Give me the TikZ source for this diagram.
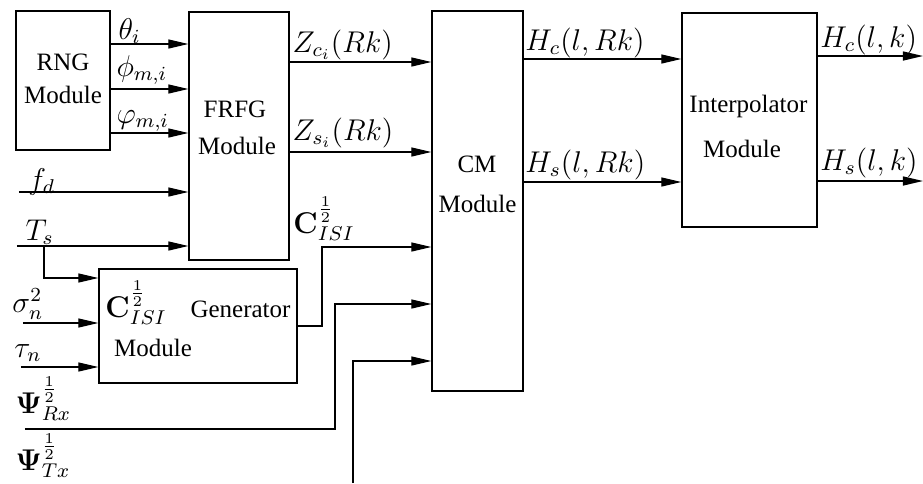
\documentclass[tikz,border=0pt]{standalone}
\usepackage[no-math]{fontspec}
\setmainfont{Liberation Serif}
\usetikzlibrary{arrows.meta}
\begin{document}
\begin{tikzpicture}[x=0.4pt,y=-0.4pt,
  box/.style={draw,line width=0.5pt,inner sep=0pt},
  txt/.style={font=\fontsize{10}{12}\selectfont,inner sep=0pt,anchor=base},
  lbl/.style={font=\fontsize{12}{14}\selectfont,inner sep=0pt,anchor=base west},
  arr/.style={line width=0.5pt,-{Triangle[length=8pt,width=3.6pt]}},
  ln/.style={line width=0.5pt}]
\useasboundingbox (0,0) rectangle (923,483);

% boxes
\node[box,minimum width=37.6pt,minimum height=55.6pt] (rng) at (63,80.5) {};
\node[box,minimum width=40pt,minimum height=99.2pt] (frfg) at (239,136) {};
\node[box,minimum width=36.4pt,minimum height=152pt] (cm) at (477.5,201) {};
\node[box,minimum width=54pt,minimum height=85.6pt] (intp) at (749.5,120) {};
\node[box,minimum width=79.2pt,minimum height=45.6pt] (gen) at (198,326) {};

% box texts
\node[txt] (rngt1) at (63,70) {RNG};
\node[txt] (rngt2) at (63,103) {Module};
\node[txt] (frfgt1) at (235,117) {FRFG};
\node[txt] (frfgt2) at (237,154) {Module};
\node[txt] (cmt1) at (477,172) {CM};
\node[txt] (cmt2) at (477.5,212) {Module};
\node[txt] (intpt1) at (748.5,112) {Interpolator};
\node[txt] (intpt2) at (742,157) {Module};
\node[txt] (gent1) at (240.5,317) {Generator};
\node[txt] (gent2) at (153,356) {Module};
\node[lbl] (gent0) at (105,317) {$\mathbf{C}^{\frac{1}{2}}_{ISI}$};

% labels
\node[lbl] (l1) at (118,39) {$\theta_i$};
\node[lbl] (l2) at (116,76) {$\phi_{m,i}$};
\node[lbl] (l3) at (116,123) {$\varphi_{m,i}$};
\node[lbl] (l4) at (292,52) {$Z_{c_i}(Rk)$};
\node[lbl] (l5) at (292,140) {$Z_{s_i}(Rk)$};
\node[lbl] (l6) at (293,233) {$\mathbf{C}^{\frac{1}{2}}_{ISI}$};
\node[lbl] (l7) at (525,50) {$H_c(l,Rk)$};
\node[lbl] (l8) at (525,172) {$H_s(l,Rk)$};
\node[lbl] (l9) at (820,47) {$H_c(l,k)$};
\node[lbl] (l10) at (820,170) {$H_s(l,k)$};
\node[lbl] (l11) at (28,189) {$f_d$};
\node[lbl] (l12) at (25,240) {$T_s$};
\node[lbl] (l13) at (12,312) {$\sigma_n^2$};
\node[lbl] (l14) at (14,357) {$\tau_n$};
\node[lbl] (l15) at (15,413) {$\mathbf{\Psi}^{\frac{1}{2}}_{Rx}$};
\node[lbl] (l16) at (15,470) {$\mathbf{\Psi}^{\frac{1}{2}}_{Tx}$};

% free ends
\coordinate (fdin) at (19,192);
\coordinate (tsin) at (17,246);
\coordinate (tsb) at (44,246);
\coordinate (sgin) at (23,323);
\coordinate (tauin) at (21,367);
\coordinate (rxin) at (25,429);
\coordinate (txin) at (353,483);
\coordinate (out1) at (923,56);
\coordinate (out2) at (923,181);

% RNG -> FRFG
\draw[arr] (rng.east |- 0,44) -- (frfg.west |- 0,44);
\draw[arr] (rng.east |- 0,89) -- (frfg.west |- 0,89);
\draw[arr] (rng.east |- 0,133) -- (frfg.west |- 0,133);
% FRFG -> CM
\draw[arr] (frfg.east |- 0,62) -- (cm.west |- 0,62);
\draw[arr] (frfg.east |- 0,152) -- (cm.west |- 0,152);
% inputs
\draw[arr] (fdin) -- (fdin -| frfg.west);
\draw[arr] (tsin) -- (tsin -| frfg.west);
\draw[arr] (tsb) -- (44,278) -- (gen.west |- 0,278);
\draw[arr] (sgin) -- (sgin -| gen.west);
\draw[arr] (tauin) -- (tauin -| gen.west);
% generator -> CM
\draw[arr] (gen.east) -- (322,326) -- (322,247) -- (cm.west |- 0,247);
\draw[arr] (rxin) -- (335,429) -- (335,304) -- (cm.west |- 0,304);
\draw[arr] (txin) -- (353,361) -- (cm.west |- 0,361);
% CM -> Interpolator
\draw[arr] (cm.east |- 0,59) -- (intp.west |- 0,59);
\draw[arr] (cm.east |- 0,182) -- (intp.west |- 0,182);
% outputs
\draw[arr] (intp.east |- out1) -- (out1);
\draw[arr] (intp.east |- out2) -- (out2);
\end{tikzpicture}
\end{document}
